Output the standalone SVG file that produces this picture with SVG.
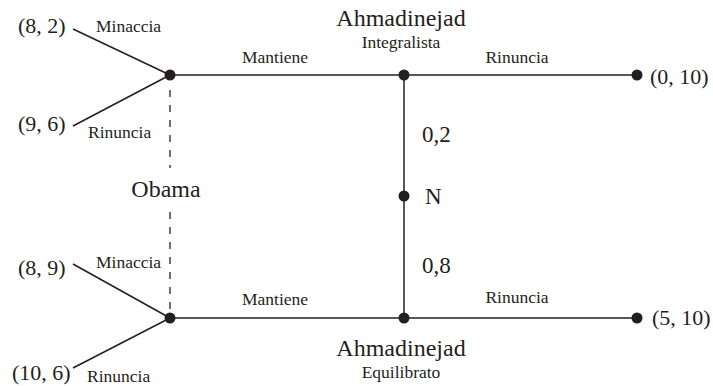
<svg xmlns="http://www.w3.org/2000/svg" width="713" height="386" viewBox="0 0 713 386">
<style>
  .big { font-size: 24px; }
  .lbl { font-size: 17.5px; }
  .pay { font-size: 22px; }
  .prob { font-size: 23px; }
  .edge { stroke: #231f20; stroke-width: 1.5; fill: none; }
  .info { stroke: #231f20; stroke-width: 1.3; stroke-dasharray: 7 8; fill: none; }
  .dot { fill: #231f20; }
</style>
<rect width="713" height="386" fill="#ffffff"/>
<g font-family="'Liberation Serif', 'Times New Roman', serif" fill="#231f20">
<g id="connectors">
  <line class="edge" x1="73" y1="29" x2="170" y2="75"/>
  <line class="edge" x1="73" y1="126" x2="170" y2="75"/>
  <line class="edge" x1="170" y1="75" x2="637" y2="75"/>
  <line class="edge" x1="73" y1="264" x2="170" y2="318"/>
  <line class="edge" x1="73" y1="368" x2="170" y2="318"/>
  <line class="edge" x1="170" y1="318" x2="637" y2="318"/>
  <line class="edge" x1="404" y1="75" x2="404" y2="318"/>
  <line class="info" x1="170" y1="90" x2="170" y2="168"/>
  <line class="info" x1="170" y1="212" x2="170" y2="310"/>
</g>
<g id="obama-top">
  <circle class="dot" cx="170" cy="75" r="5.5"/>
  <text class="lbl" x="96" y="32">Minaccia</text>
  <text class="lbl" x="88" y="138">Rinuncia</text>
  <text class="pay" x="18" y="33">(8, 2)</text>
  <text class="pay" x="18" y="131">(9, 6)</text>
  <text class="lbl" x="275" y="63" text-anchor="middle">Mantiene</text>
</g>
<g id="obama-bottom">
  <circle class="dot" cx="170" cy="318" r="5.5"/>
  <text class="lbl" x="96" y="268">Minaccia</text>
  <text class="lbl" x="87" y="382">Rinuncia</text>
  <text class="pay" x="18" y="275">(8, 9)</text>
  <text class="pay" x="12" y="380">(10, 6)</text>
  <text class="lbl" x="275" y="305" text-anchor="middle">Mantiene</text>
</g>
<g id="obama-label">
  <text class="big" x="166" y="197" text-anchor="middle">Obama</text>
</g>
<g id="ahmadinejad-integralista">
  <circle class="dot" cx="404" cy="75" r="5.5"/>
  <text class="big" x="401" y="26" text-anchor="middle">Ahmadinejad</text>
  <text class="lbl" x="401" y="48" text-anchor="middle">Integralista</text>
  <text class="lbl" x="517" y="63" text-anchor="middle">Rinuncia</text>
</g>
<g id="ahmadinejad-equilibrato">
  <circle class="dot" cx="404" cy="318" r="5.5"/>
  <text class="big" x="401" y="356" text-anchor="middle">Ahmadinejad</text>
  <text class="lbl" x="401" y="378" text-anchor="middle">Equilibrato</text>
  <text class="lbl" x="517" y="303" text-anchor="middle">Rinuncia</text>
</g>
<g id="nature">
  <circle class="dot" cx="404" cy="196" r="5.5"/>
  <text class="prob" x="425" y="204">N</text>
  <text class="prob" x="422" y="142">0,2</text>
  <text class="prob" x="422" y="273">0,8</text>
</g>
<g id="payoff-top">
  <circle class="dot" cx="637" cy="75" r="5.5"/>
  <text class="pay" x="650" y="84">(0, 10)</text>
</g>
<g id="payoff-bottom">
  <circle class="dot" cx="637" cy="318" r="5.5"/>
  <text class="pay" x="652" y="325">(5, 10)</text>
</g>
</g>
</svg>
